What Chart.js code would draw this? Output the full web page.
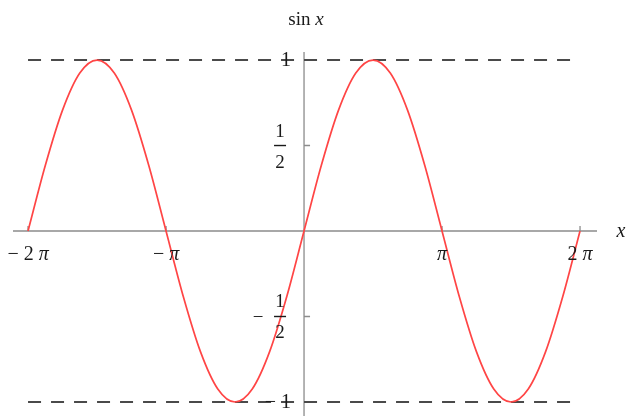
<!DOCTYPE html>
<html>
<head>
<meta charset="utf-8">
<script src="https://cdn.jsdelivr.net/npm/chart.js@4"></script>
<style>
  html, body { margin: 0; padding: 0; background: #fff; }
  #wrap { width: 635px; height: 416px; position: relative; }
</style>
</head>
<body>
<div id="wrap"><canvas id="myChart"></canvas></div>
<script>
// x is in units of pi
const xValues = [-2, -1.875, -1.75, -1.625, -1.5, -1.375, -1.25, -1.125, -1, -0.875, -0.75, -0.625, -0.5, -0.375, -0.25, -0.125,
    0, 0.125, 0.25, 0.375, 0.5, 0.625, 0.75, 0.875, 1, 1.125, 1.25, 1.375, 1.5, 1.625, 1.75, 1.875, 2];
const sinValues = [0, 0.383, 0.707, 0.924, 1, 0.924, 0.707, 0.383, 0, -0.383, -0.707, -0.924, -1, -0.924, -0.707, -0.383,
    0, 0.383, 0.707, 0.924, 1, 0.924, 0.707, 0.383, 0, -0.383, -0.707, -0.924, -1, -0.924, -0.707, -0.383, 0];
const boundLevels = [1, -1];
const xTicks = [-2, -1, 1, 2];
const xTickLabels = [['− 2 ', 'π'], ['− ', 'π'], ['', 'π'], ['2 ', 'π']];
const yTicks = [1, 0.5, -0.5, -1];
const yTickLabels = ['1', '1/2', '−1/2', '−1'];

const SERIF = '"Liberation Serif", "DejaVu Serif", serif';
const AXIS_COLOR = '#8c8c8c';
const TEXT_COLOR = '#1a1a1a';

// draw a row of [upright, italic] text pieces centred on cx
function drawRuns(ctx, parts, cx, cy, size) {
    const fonts = [`${size}px ${SERIF}`, `italic ${size}px ${SERIF}`];
    let total = 0;
    parts.forEach((p, i) => { ctx.font = fonts[i % 2]; total += ctx.measureText(p).width; });
    let x = cx - total / 2;
    ctx.textAlign = 'left';
    ctx.textBaseline = 'middle';
    parts.forEach((p, i) => {
        ctx.font = fonts[i % 2];
        ctx.fillText(p, x, cy);
        x += ctx.measureText(p).width;
    });
}

const axesPlugin = {
    id: 'centerAxes',
    beforeDatasetsDraw(chart) {
        const { ctx, chartArea, scales: { x, y } } = chart;
        const x0 = x.getPixelForValue(0);
        const y0 = y.getPixelForValue(0);
        ctx.save();
        ctx.strokeStyle = AXIS_COLOR;
        ctx.lineWidth = 1.3;
        ctx.beginPath();
        ctx.moveTo(chartArea.left, y0);
        ctx.lineTo(chartArea.right, y0);
        ctx.moveTo(x0, chartArea.top);
        ctx.lineTo(x0, chartArea.bottom);
        // small tick marks
        xTicks.forEach(v => {
            const px = x.getPixelForValue(v);
            ctx.moveTo(px, y0);
            ctx.lineTo(px, y0 - 5);
        });
        yTicks.forEach(v => {
            const py = y.getPixelForValue(v);
            ctx.moveTo(x0, py);
            ctx.lineTo(x0 + 6, py);
        });
        ctx.stroke();
        ctx.restore();
    },
    afterDatasetsDraw(chart) {
        const { ctx, scales: { x, y } } = chart;
        const x0 = x.getPixelForValue(0);
        const y0 = y.getPixelForValue(0);
        ctx.save();
        ctx.fillStyle = TEXT_COLOR;

        // x tick labels
        xTicks.forEach((v, i) => {
            drawRuns(ctx, xTickLabels[i], x.getPixelForValue(v), y0 + 24, 20);
        });

        // y tick labels
        yTicks.forEach((v, i) => {
            const py = y.getPixelForValue(v);
            const lab = yTickLabels[i];
            if (lab.indexOf('/') < 0) {
                ctx.font = `20px ${SERIF}`;
                ctx.textAlign = 'right';
                ctx.textBaseline = 'middle';
                ctx.fillText(lab.replace('−', '− '), x0 - 13, py + 1);
                return;
            }
            const neg = lab.startsWith('−');
            const [num, den] = lab.replace('−', '').split('/');
            const fx = x0 - 24;
            ctx.font = `19px ${SERIF}`;
            ctx.textAlign = 'center';
            ctx.textBaseline = 'middle';
            ctx.fillText(num, fx, py - 14);
            ctx.fillText(den, fx, py + 17);
            ctx.fillRect(fx - 6, py - 0.7, 12, 1.4);
            if (neg) ctx.fillText('−', fx - 22, py + 2);
        });

        // axis labels
        drawRuns(ctx, ['sin ', 'x'], x0 + 2, 20, 19);
        drawRuns(ctx, ['', 'x'], x.right + 24, y0 + 1, 20);
        ctx.restore();
    }
};

const datasets = [{
    data: xValues.map((v, i) => ({ x: v, y: sinValues[i] })),
    borderColor: '#ff4545',
    borderWidth: 1.7,
    pointRadius: 0,
    cubicInterpolationMode: 'monotone',
    order: 0
}];
boundLevels.forEach(level => {
    datasets.push({
        data: [{ x: xValues[0], y: level }, { x: xValues[xValues.length - 1], y: level }],
        borderColor: '#4a4a4a',
        borderWidth: 2,
        borderDash: [13, 10],
        pointRadius: 0,
        order: 1
    });
});

const ctx = document.getElementById('myChart').getContext('2d');
new Chart(ctx, {
    type: 'line',
    data: { datasets },
    options: {
        responsive: true,
        maintainAspectRatio: false,
        animation: false,
        layout: { padding: { left: 13, right: 38, top: 52, bottom: 0 } },
        plugins: { legend: { display: false }, tooltip: { enabled: false } },
        scales: {
            x: { type: 'linear', min: -2.109, max: 2.123, display: false },
            y: { type: 'linear', min: -1.082, max: 1.047, display: false }
        }
    },
    plugins: [axesPlugin]
});
</script>
</body>
</html>
